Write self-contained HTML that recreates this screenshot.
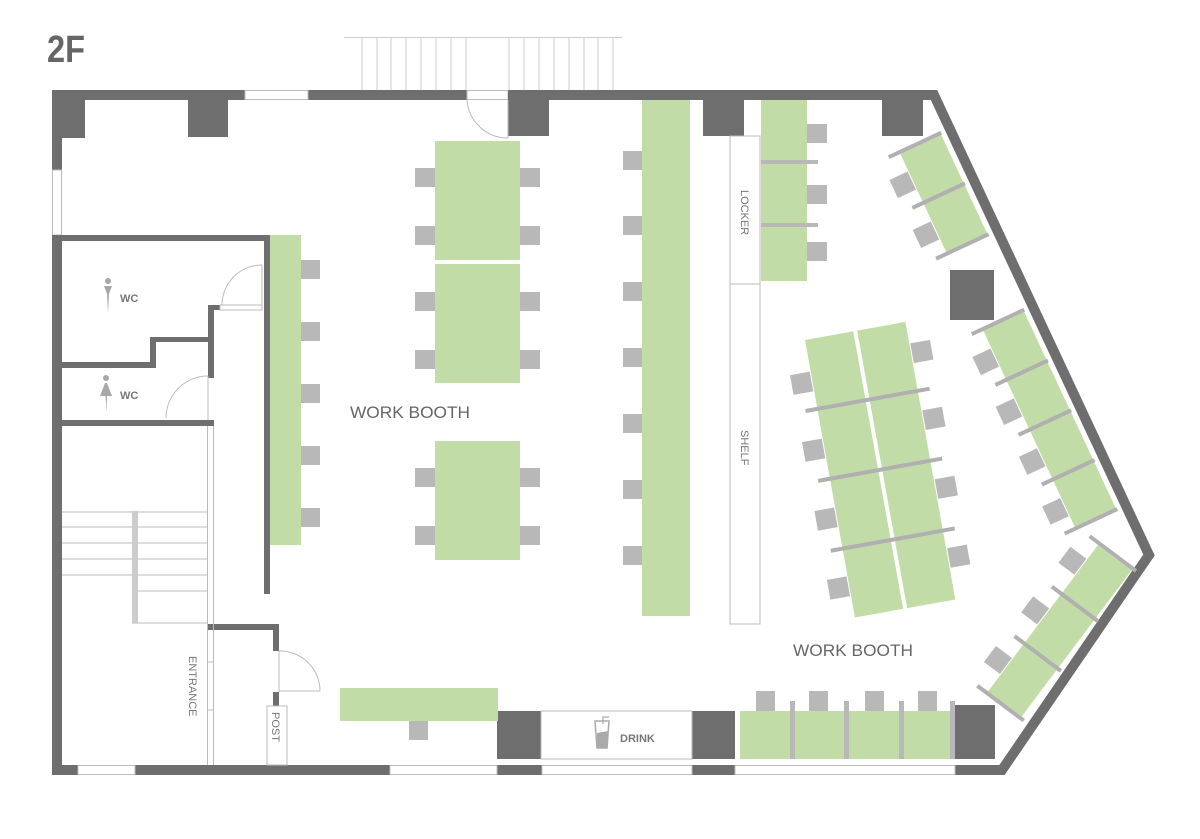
<!DOCTYPE html>
<html><head><meta charset="utf-8"><style>html,body{margin:0;padding:0;background:#fff}svg{display:block}</style></head>
<body>
<svg width="1200" height="839" viewBox="0 0 1200 839" xmlns="http://www.w3.org/2000/svg" font-family="Liberation Sans, sans-serif">
<rect width="1200" height="839" fill="#fff"/>
<text x="47" y="62" font-size="38" font-weight="bold" fill="#666" textLength="38" lengthAdjust="spacingAndGlyphs">2F</text>

<g stroke="#ccc" stroke-width="1">
<line x1="344" y1="37.5" x2="622" y2="37.5"/>
<line x1="362" y1="37" x2="362" y2="90"/><line x1="377" y1="37" x2="377" y2="90"/><line x1="391" y1="37" x2="391" y2="90"/><line x1="406" y1="37" x2="406" y2="90"/><line x1="421" y1="37" x2="421" y2="90"/><line x1="436" y1="37" x2="436" y2="90"/><line x1="451" y1="37" x2="451" y2="90"/><line x1="466" y1="37" x2="466" y2="90"/>
<line x1="509" y1="37" x2="509" y2="90"/><line x1="524" y1="37" x2="524" y2="90"/><line x1="539" y1="37" x2="539" y2="90"/><line x1="554" y1="37" x2="554" y2="90"/><line x1="569" y1="37" x2="569" y2="90"/><line x1="584" y1="37" x2="584" y2="90"/><line x1="598" y1="37" x2="598" y2="90"/><line x1="613" y1="37" x2="613" y2="90"/>
</g>

<path d="M57,770 V95 H934 L1149,555 L1002,770 Z" fill="none" stroke="#6e6e6e" stroke-width="10" stroke-linejoin="miter"/>

<g fill="#fff" stroke="#bbb" stroke-width="1">
<rect x="245" y="90.5" width="63" height="9"/>
<rect x="467" y="90.5" width="41" height="9"/>
<rect x="52.5" y="170" width="9" height="65"/>
<rect x="78" y="765.5" width="57" height="9"/>
<rect x="390" y="765.5" width="107" height="9"/>
<rect x="542" y="765.5" width="150" height="9"/>
<rect x="735" y="765.5" width="220" height="9"/>
</g>

<g fill="#6e6e6e">
<rect x="52" y="90" width="33" height="48"/>
<rect x="188" y="100" width="40" height="37"/>
<rect x="508" y="90" width="41" height="46"/>
<rect x="703" y="90" width="41" height="46"/>
<rect x="882" y="100" width="41" height="36"/>
<rect x="950" y="270" width="44" height="50"/>
<rect x="497" y="711" width="44" height="48"/>
<rect x="692" y="711" width="43" height="48"/>
<rect x="953" y="705" width="42" height="54"/>
</g>

<path d="M467,100 A41,41 0 0 0 508,138" fill="none" stroke="#bbb" stroke-width="1"/>
<line x1="508" y1="100" x2="508" y2="138" stroke="#bbb"/>

<g fill="#6e6e6e">
<rect x="52" y="235" width="218" height="6"/>
<rect x="264" y="235" width="6" height="359"/>
<rect x="208" y="305" width="6" height="73"/>
<rect x="208" y="305" width="12" height="5"/>
<rect x="62" y="362" width="94" height="6"/>
<rect x="150" y="337" width="6" height="31"/>
<rect x="150" y="337" width="60" height="5"/>
<rect x="62" y="420" width="152" height="6"/>
<rect x="207" y="624" width="72" height="6"/>
<rect x="273" y="624" width="6" height="27"/>
<rect x="273" y="692" width="6" height="14"/>
</g>
<g fill="none" stroke="#bbb" stroke-width="1">
<path d="M222,305 A40,40 0 0 1 262,265"/><line x1="262" y1="265" x2="262" y2="305"/>
<rect x="220" y="305" width="42" height="5"/>
<path d="M166,418 A42,42 0 0 1 208,376"/><line x1="208" y1="376" x2="208" y2="420"/>
<path d="M279,651 A40,40 0 0 1 320,691"/><line x1="279" y1="691" x2="320" y2="691"/>
<line x1="279" y1="651" x2="279" y2="692"/>
<line x1="207.5" y1="426" x2="207.5" y2="765"/><line x1="213.5" y1="426" x2="213.5" y2="765"/>
<line x1="207" y1="662" x2="213" y2="662"/><line x1="207" y1="710" x2="213" y2="710"/>
<line x1="62" y1="512" x2="207" y2="512"/><line x1="62" y1="527" x2="207" y2="527"/><line x1="62" y1="543" x2="207" y2="543"/><line x1="62" y1="559" x2="207" y2="559"/><line x1="62" y1="575" x2="207" y2="575"/><line x1="138" y1="591" x2="207" y2="591"/><line x1="132" y1="623" x2="207" y2="623"/>
<rect x="267" y="706" width="20" height="59"/>
<rect x="730" y="136" width="30" height="148"/><rect x="730" y="284" width="30" height="340"/>
<rect x="541" y="711" width="151" height="48"/>
</g>
<rect x="132" y="511" width="6" height="112" fill="#ccc"/>

<g fill="#a8a8a8">
<circle cx="108" cy="281" r="3"/><path d="M104,286 H112 L109,294 L108,313 L107,294 Z"/>
<circle cx="106" cy="378" r="3"/><path d="M105,383 H107 L112,396 H107 L106.5,412 L105.5,396 H100 Z"/>
</g>
<text x="120" y="302" font-size="11" font-weight="bold" fill="#777">WC</text>
<text x="120" y="399" font-size="11" font-weight="bold" fill="#777">WC</text>

<g fill="#c2dca8">
<rect x="270" y="235" width="31" height="310"/>
<rect x="435" y="141" width="85" height="119"/>
<rect x="435" y="264" width="85" height="119"/>
<rect x="435" y="441" width="85" height="119"/>
<rect x="642" y="100" width="48" height="516"/>
<rect x="761" y="100" width="46" height="181"/>
<rect x="340" y="688" width="158" height="33"/>
<rect x="740" y="711" width="210" height="48"/>
</g>

<g fill="#b8b8b8">
<rect x="301" y="260" width="19" height="19"/><rect x="301" y="322" width="19" height="19"/><rect x="301" y="384" width="19" height="19"/><rect x="301" y="446" width="19" height="19"/><rect x="301" y="508" width="19" height="19"/>
<rect x="415" y="168" width="20" height="19"/><rect x="415" y="226" width="20" height="19"/><rect x="415" y="292" width="20" height="19"/><rect x="415" y="350" width="20" height="19"/><rect x="415" y="468" width="20" height="19"/><rect x="415" y="526" width="20" height="19"/>
<rect x="520" y="168" width="20" height="19"/><rect x="520" y="226" width="20" height="19"/><rect x="520" y="292" width="20" height="19"/><rect x="520" y="350" width="20" height="19"/><rect x="520" y="468" width="20" height="19"/><rect x="520" y="526" width="20" height="19"/>
<rect x="623" y="151" width="19" height="19"/><rect x="623" y="216" width="19" height="19"/><rect x="623" y="282" width="19" height="19"/><rect x="623" y="348" width="19" height="19"/><rect x="623" y="414" width="19" height="19"/><rect x="623" y="480" width="19" height="19"/><rect x="623" y="546" width="19" height="19"/>
<rect x="807" y="124" width="20" height="19"/><rect x="807" y="185" width="20" height="19"/><rect x="807" y="242" width="20" height="19"/>
<rect x="409" y="721" width="19" height="19"/>
<rect x="756" y="691" width="19" height="20"/><rect x="809" y="691" width="19" height="20"/><rect x="865" y="691" width="19" height="20"/><rect x="918" y="691" width="19" height="20"/>
<rect x="761" y="160" width="57" height="4"/><rect x="761" y="223" width="57" height="4"/>
<rect x="790" y="701" width="5" height="58"/><rect x="844" y="701" width="5" height="58"/><rect x="899" y="701" width="5" height="58"/><rect x="950" y="701" width="5" height="58"/>
</g>

<g transform="translate(805,340) rotate(-10.2)">
<rect x="0" y="0" width="102" height="282" fill="#c2dca8"/>
<rect x="49" y="0" width="4" height="282" fill="#fff"/>
<g fill="#b0b0b0">
<rect x="-12" y="68" width="126" height="4"/><rect x="-12" y="139" width="126" height="4"/><rect x="-12" y="210" width="126" height="4"/>
</g>
<g fill="#b8b8b8">
<rect x="-21" y="32" width="20" height="20"/><rect x="-21" y="100" width="20" height="20"/><rect x="-21" y="170" width="20" height="20"/><rect x="-21" y="240" width="20" height="20"/>
<rect x="103" y="22" width="20" height="20"/><rect x="103" y="90" width="20" height="20"/><rect x="103" y="160" width="20" height="20"/><rect x="103" y="230" width="20" height="20"/>
</g>
</g>

<g transform="translate(900,153) rotate(-25)">
<rect x="0" y="0" width="45" height="111" fill="#c2dca8"/>
<g fill="#b0b0b0"><rect x="-12" y="-3" width="58" height="4"/><rect x="-12" y="53" width="58" height="4"/><rect x="-12" y="109" width="58" height="4"/></g>
<g fill="#b8b8b8"><rect x="-21" y="20" width="20" height="20"/><rect x="-21" y="75" width="20" height="20"/></g>
</g>
<g transform="translate(983,330) rotate(-25)">
<rect x="0" y="0" width="45" height="219" fill="#c2dca8"/>
<g fill="#b0b0b0"><rect x="-12" y="-3" width="58" height="4"/><rect x="-12" y="53" width="58" height="4"/><rect x="-12" y="108" width="58" height="4"/><rect x="-12" y="163" width="58" height="4"/><rect x="-12" y="217" width="58" height="4"/></g>
<g fill="#b8b8b8"><rect x="-21" y="20" width="20" height="20"/><rect x="-21" y="75" width="20" height="20"/><rect x="-21" y="130" width="20" height="20"/><rect x="-21" y="185" width="20" height="20"/></g>
</g>
<g transform="translate(1098,545) rotate(36.9)">
<rect x="0" y="0" width="42" height="183" fill="#c2dca8"/>
<g fill="#b0b0b0"><rect x="-12" y="-4" width="58" height="4"/><rect x="-12" y="59" width="58" height="4"/><rect x="-12" y="121" width="58" height="4"/><rect x="-12" y="183" width="58" height="4"/></g>
<g fill="#b8b8b8"><rect x="-21" y="18" width="20" height="20"/><rect x="-21" y="80" width="20" height="20"/><rect x="-21" y="142" width="20" height="20"/></g>
</g>

<path d="M595,721 H609 L607,748 H597 Z" fill="none" stroke="#aaa" stroke-width="1.5"/>
<path d="M597,733 L608,731 L607,748 H597 Z" fill="#aaa"/>
<path d="M603,724 V717 H609" fill="none" stroke="#aaa" stroke-width="1.2"/>
<text x="620" y="742" font-size="11" font-weight="bold" fill="#777">DRINK</text>

<text x="350" y="418" font-size="17" fill="#666" textLength="120" lengthAdjust="spacingAndGlyphs">WORK BOOTH</text>
<text x="793" y="656" font-size="17" fill="#666" textLength="120" lengthAdjust="spacingAndGlyphs">WORK BOOTH</text>
<text transform="translate(741,190) rotate(90)" font-size="11" fill="#777">LOCKER</text>
<text transform="translate(741,430) rotate(90)" font-size="11" fill="#777">SHELF</text>
<text transform="translate(189,656) rotate(90)" font-size="11" fill="#777">ENTRANCE</text>
<text transform="translate(272,712) rotate(90)" font-size="11" fill="#777">POST</text>
</svg>
</body></html>
